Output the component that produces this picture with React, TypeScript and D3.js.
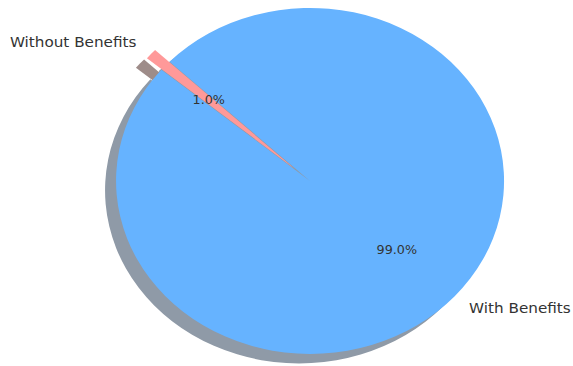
import React from "react";
import * as d3 from "d3";

const categories = ["With Benefits", "Without Benefits"];
const values = [99, 1];
const explode = [0, 0.1];
const colors = ["#66b3ff", "#ff9999"];
const shadowColors = ["#8f9aa7", "#9e8c89"];
const startAngleDeg = 140;

const W = 573;
const H = 366;
const cx = 310;
const cy = 181;
const rx = 194;
const ry = 173;
const shadowDx = -11;
const shadowDy = 9.5;
const textSx = 1.12;

export default function App() {
  const a0 = ((90 - startAngleDeg) * Math.PI) / 180;
  const pie = d3
    .pie<number>()
    .sort(null)
    .value((d) => d)
    .startAngle(a0)
    .endAngle(a0 - 2 * Math.PI);
  const arcs = pie(values);
  const arc = d3.arc<d3.PieArcDatum<number>>().innerRadius(0).outerRadius(1);
  const total = d3.sum(values);

  const slices = arcs.map((a, i) => {
    const mid = (a.startAngle + a.endAngle) / 2;
    const ux = Math.sin(mid);
    const uy = -Math.cos(mid);
    const ex = explode[i];
    return { a, i, ux, uy, ex, path: arc(a) as string };
  });

  return (
    <svg
      width={W}
      height={H}
      style={{ position: "absolute", left: 0, top: 0, display: "block" }}
      fontFamily="DejaVu Sans, sans-serif"
    >
      <rect width={W} height={H} fill="#ffffff" />
      {slices.map((s) => (
        <g
          key={"sh" + s.i}
          transform={`translate(${cx + shadowDx},${cy + shadowDy}) scale(${rx},${ry}) translate(${s.ux * s.ex},${s.uy * s.ex})`}
        >
          <path d={s.path} fill={shadowColors[s.i]} />
        </g>
      ))}
      {slices.map((s) => (
        <g
          key={"w" + s.i}
          transform={`translate(${cx},${cy}) scale(${rx},${ry}) translate(${s.ux * s.ex},${s.uy * s.ex})`}
        >
          <path d={s.path} fill={colors[s.i]} />
        </g>
      ))}
      {slices.map((s) => {
        const lx = cx + rx * s.ux * (s.ex + 1.1);
        const ly = cy + ry * s.uy * (s.ex + 1.1);
        const px = cx + rx * s.ux * (s.ex + 0.6);
        const py = cy + ry * s.uy * (s.ex + 0.6);
        const pct = ((values[s.i] / total) * 100).toFixed(1) + "%";
        return (
          <g key={"t" + s.i}>
            <text
              transform={`translate(${lx},${ly}) scale(${textSx},1)`}
              textAnchor={s.ux < 0 ? "end" : "start"}
              dominantBaseline="central"
              fontSize={13.6}
              fill="#333333"
            >
              {categories[s.i]}
            </text>
            <text
              transform={`translate(${px},${py}) scale(${textSx},1)`}
              textAnchor="middle"
              dominantBaseline="central"
              fontSize={11.4}
              fill="#333333"
            >
              {pct}
            </text>
          </g>
        );
      })}
    </svg>
  );
}
